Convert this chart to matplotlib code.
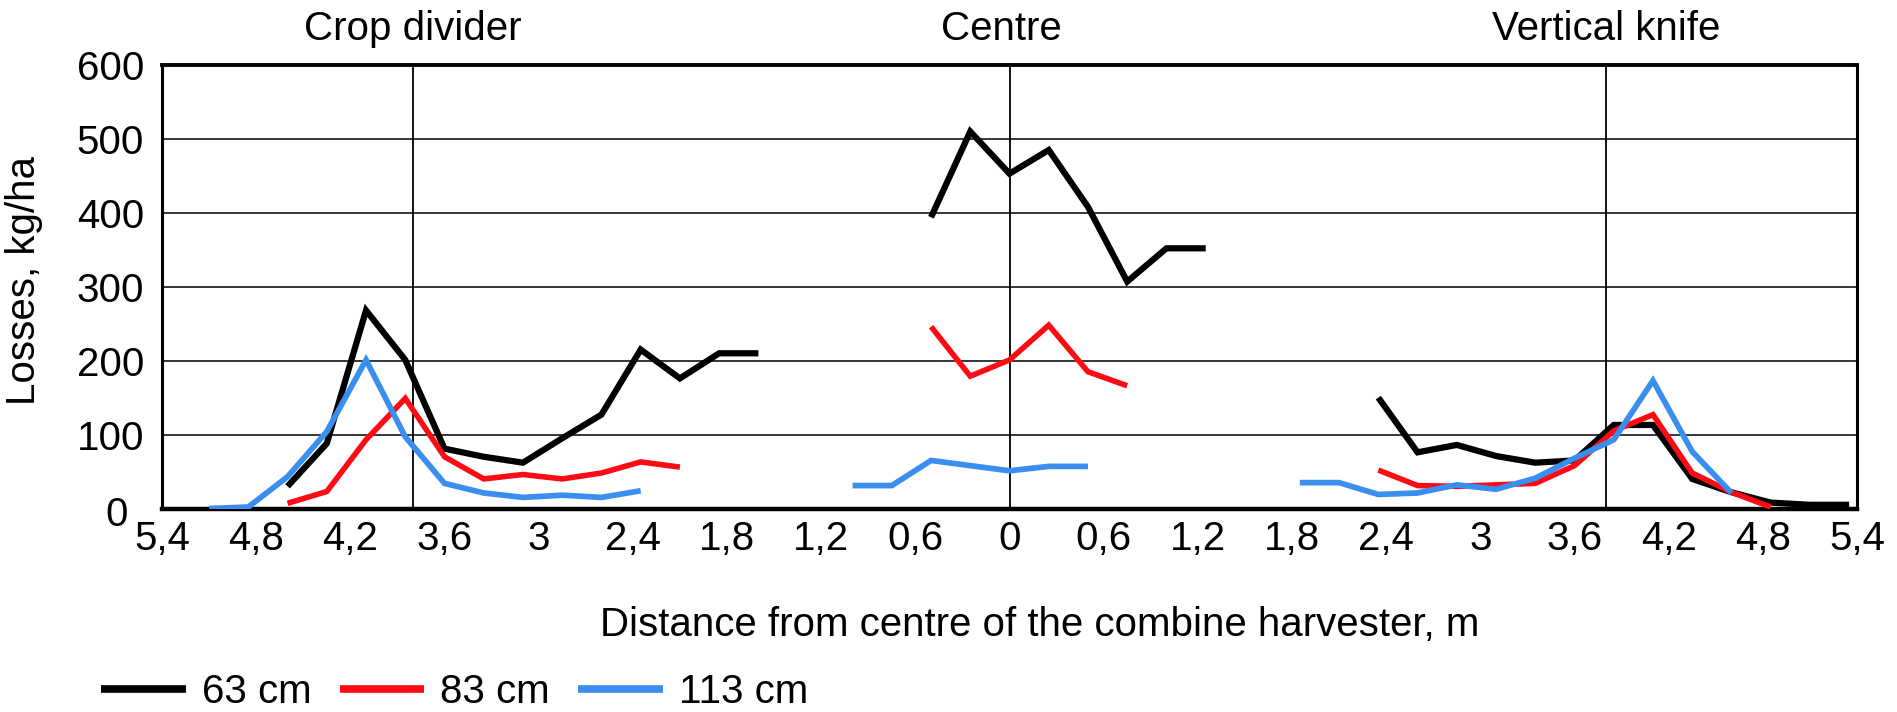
import numpy as np
import matplotlib
matplotlib.use("Agg")
import matplotlib.pyplot as plt
import matplotlib.transforms as mtransforms

# ---------------- data (x: signed distance from centre, m; y: losses, kg/ha)
# 63 cm
black_left_x = [-4.6, -4.35, -4.1, -3.85, -3.6, -3.35, -3.1, -2.85, -2.6, -2.35, -2.1, -1.85, -1.6]
black_left_y = [30, 88, 268, 201, 81, 70, 62, 95, 127, 215, 176, 210, 210]
black_centre_x = [-0.5, -0.25, 0, 0.25, 0.5, 0.75, 1.0, 1.25]
black_centre_y = [394, 510, 453, 485, 408, 307, 352, 352]
black_right_x = [2.35, 2.6, 2.85, 3.1, 3.35, 3.6, 3.85, 4.1, 4.35, 4.6, 4.85, 5.1, 5.35]
black_right_y = [150, 76, 86, 71, 62, 65, 113, 113, 40, 22, 8, 5, 5]
# 83 cm
red_left_x = [-4.6, -4.35, -4.1, -3.85, -3.6, -3.35, -3.1, -2.85, -2.6, -2.35, -2.1]
red_left_y = [7, 23, 93, 149, 70, 40, 46, 40, 48, 63, 56]
red_centre_x = [-0.5, -0.25, 0, 0.25, 0.5, 0.75]
red_centre_y = [246, 179, 201, 248, 185, 166]
red_right_x = [2.35, 2.6, 2.85, 3.1, 3.35, 3.6, 3.85, 4.1, 4.35, 4.6, 4.85]
red_right_y = [52, 31, 30, 32, 34, 58, 105, 127, 48, 22, 2]
# 113 cm
blue_left_x = [-5.1, -4.85, -4.6, -4.35, -4.1, -3.85, -3.6, -3.35, -3.1, -2.85, -2.6, -2.35]
blue_left_y = [0, 2, 43, 104, 201, 97, 34, 21, 15, 18, 15, 24]
blue_centre_x = [-1.0, -0.75, -0.5, -0.25, 0, 0.25, 0.5]
blue_centre_y = [31, 31, 65, 58, 51, 57, 57]
blue_right_x = [1.85, 2.1, 2.35, 2.6, 2.85, 3.1, 3.35, 3.6, 3.85, 4.1, 4.35, 4.6]
blue_right_y = [35, 35, 19, 21, 32, 26, 41, 68, 93, 173, 77, 21]

series_labels = ["63 cm", "83 cm", "113 cm"]
tick_values = np.round(np.arange(-5.4, 5.41, 0.6), 1)
yticks = [0, 100, 200, 300, 400, 500, 600]
section_titles = ["Crop divider", "Centre", "Vertical knife"]
section_title_x = [-3.8, -0.05, 3.8]
section_lines = [-3.8, 0.0, 3.8]

# ---------------- style
plt.rcParams["font.family"] = ["Liberation Sans", "DejaVu Sans"]
FS = 29

fig = plt.figure(figsize=(18.97, 7.12), dpi=100)
ax = fig.add_axes([162 / 1897, 1 - 508.5 / 712, (1857 - 162) / 1897, (508.5 - 65) / 712])

colors = ["#000000", "#ff0a14", "#3a8ef0"]
widths = [4.5, 4.0, 4.1]
segs = [
    [(black_left_x, black_left_y), (black_centre_x, black_centre_y), (black_right_x, black_right_y)],
    [(red_left_x, red_left_y), (red_centre_x, red_centre_y), (red_right_x, red_right_y)],
    [(blue_left_x, blue_left_y), (blue_centre_x, blue_centre_y), (blue_right_x, blue_right_y)],
]
for k, series in enumerate(segs):
    for j, (xs, ys) in enumerate(series):
        ax.plot(xs, ys, color=colors[k], lw=widths[k], solid_joinstyle="miter",
                solid_capstyle="butt", label=series_labels[k] if j == 0 else None,
                zorder=3 + k)

ax.set_xlim(-5.4, 5.4)
ax.set_ylim(0, 600)
ax.set_xticks(tick_values)
ax.set_xticklabels([f"{abs(v):g}".replace(".", ",") for v in tick_values], fontsize=FS)
ax.set_yticks(yticks)
ax.set_yticklabels([str(v) for v in yticks], fontsize=FS)
ax.tick_params(axis="both", length=0)
ax.tick_params(axis="x", pad=8)
ax.tick_params(axis="y", pad=13)

# nudge the "0" label left so it does not collide with the first x label
zero_lbl = ax.get_yticklabels()[0]
zero_lbl.set_transform(zero_lbl.get_transform() +
                       mtransforms.ScaledTranslation(-16 / 100, -2 / 100, fig.dpi_scale_trans))

for yv in yticks[1:-1]:
    ax.axhline(yv, color="black", lw=1.1, zorder=1)
for xv in section_lines:
    ax.axvline(xv, color="black", lw=1.3, zorder=1)

for s in ["left", "right"]:
    ax.spines[s].set_linewidth(2.2)
ax.spines["top"].set_linewidth(2.8)
ax.spines["bottom"].set_linewidth(3.2)

trans = mtransforms.blended_transform_factory(ax.transData, fig.transFigure)
for t, xv in zip(section_titles, section_title_x):
    ax.text(xv, 1 - 40 / 712, t, transform=trans, ha="center", va="baseline", fontsize=FS)

fig.text(1040 / 1897, 1 - 636 / 712, "Distance from centre of the combine harvester, m",
         ha="center", va="baseline", fontsize=FS)
fig.text(24 / 1897, 1 - 280 / 712, "Losses, kg/ha", rotation=90,
         ha="center", va="center", fontsize=FS)

leg = fig.legend(loc="center left", bbox_to_anchor=(101 / 1897, 1 - 692 / 712),
                 ncol=3, frameon=False, fontsize=FS, handlelength=2.1,
                 handletextpad=0.4, columnspacing=0.7, borderpad=0, borderaxespad=0)
for h in leg.get_lines():
    h.set_linewidth(5.5)

fig.savefig("out.png", dpi=100)
